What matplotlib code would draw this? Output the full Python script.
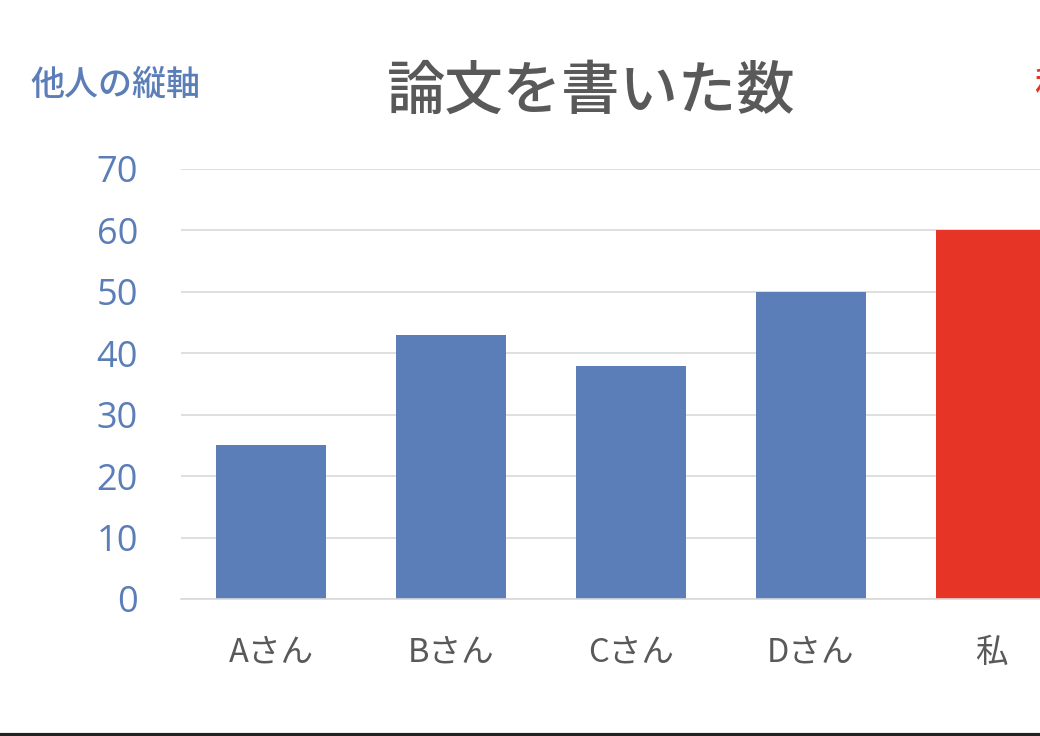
import matplotlib
matplotlib.use("Agg")
import matplotlib.pyplot as plt
from matplotlib.lines import Line2D

plt.rcParams['font.family'] = ['Noto Sans CJK JP', 'DejaVu Sans']

# data
names = ["Aさん", "Bさん", "Cさん", "Dさん", "私"]
papers = [25, 43, 38, 50, 60]
bar_colors = ["#5B7DB8", "#5B7DB8", "#5B7DB8", "#5B7DB8", "#E63426"]
yticks = [0, 10, 20, 30, 40, 50, 60, 70]

blue = "#5B7DB8"
grey = "#595959"

fig = plt.figure(figsize=(10.4, 7.36), dpi=100)
# axes runs off the right edge, like the cropped original
ax = fig.add_axes([181 / 1040, 137 / 736, 900 / 1040, 430 / 736])

x = list(range(len(names)))
ax.bar(x, papers, width=0.61, color=bar_colors, zorder=2)

ax.set_xlim(-0.5, 4.5)
ax.set_ylim(0, 70)
ax.set_yticks(yticks)
ax.set_xticks(x)
ax.set_xticklabels(names)
ax.grid(axis="y", color="#D9D9D9", linewidth=1.2, zorder=0)
ax.set_axisbelow(True)

for s in ["top", "right", "left"]:
    ax.spines[s].set_visible(False)
ax.spines["bottom"].set_color("#D9D9D9")
ax.spines["bottom"].set_linewidth(1.2)

ax.tick_params(axis="y", length=0, pad=31, labelsize=26, labelcolor=blue)
ax.tick_params(axis="x", length=0, pad=27, labelsize=23.5, labelcolor=grey)
for lbl in ax.get_yticklabels():
    lbl.set_family(['Open Sans', 'DejaVu Sans'])
    lbl.set_fontweight('medium')

fig.text(591 / 1040, 1 - 92 / 736, "論文を書いた数", ha="center", va="center",
         fontsize=42, color=grey, fontweight="medium")
fig.text(30 / 1040, 1 - 85 / 736, "他人の縦軸", ha="left", va="center",
         fontsize=24.5, color=blue, fontweight="medium")
fig.text(1034 / 1040, 1 - 85 / 736, "私の縦軸", ha="left", va="center",
         fontsize=24.5, color="#E63426", fontweight="medium")

# dark frame line along the bottom edge
fig.add_artist(Line2D([0, 1], [1.5 / 736, 1.5 / 736], transform=fig.transFigure,
                      color="#222222", linewidth=3))

fig.savefig("out.png", dpi=100)
